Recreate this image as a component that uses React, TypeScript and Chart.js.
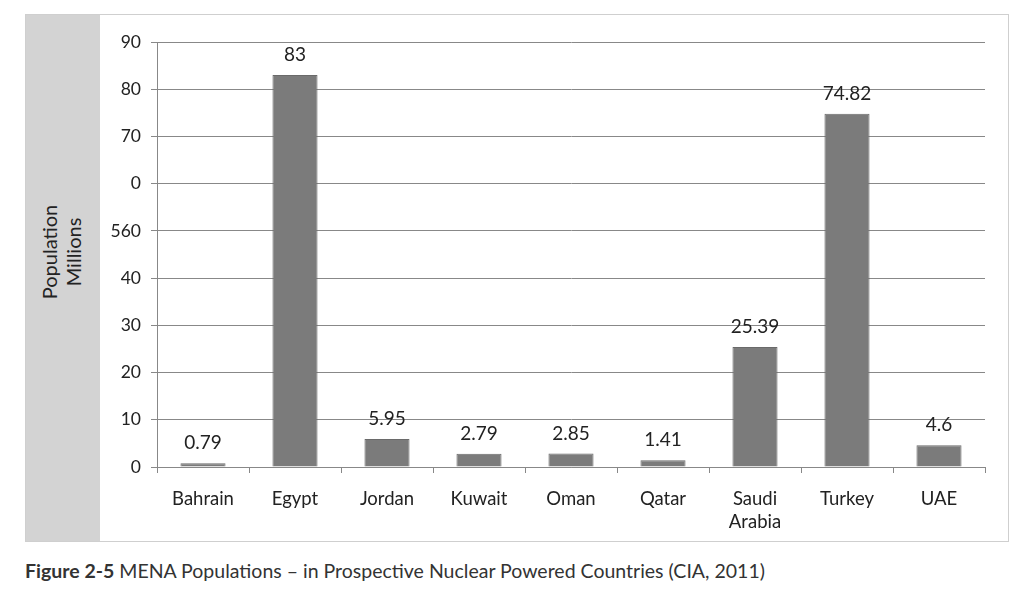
import React, { useEffect, useRef } from "react";
import { Chart, registerables } from "chart.js";

Chart.register(...registerables);

const categories: (string | string[])[] = ["Bahrain", "Egypt", "Jordan", "Kuwait", "Oman", "Qatar", ["Saudi", "Arabia"], "Turkey", "UAE"];
const populations: number[] = [0.79, 83, 5.95, 2.79, 2.85, 1.41, 25.39, 74.82, 4.6];
const valueLabels: string[] = ["0.79", "83", "5.95", "2.79", "2.85", "1.41", "25.39", "74.82", "4.6"];
// tick labels as printed in the scanned figure
const tickValues: number[] = [0, 10, 20, 30, 40, 50, 60, 70, 80, 90];
const tickLabels: string[] = ["0", "10", "20", "30", "40", "560", "0", "70", "80", "90"];

const FONT = "Lato, 'Open Sans', sans-serif";

const valueLabelPlugin = {
  id: "valueLabels",
  afterDatasetsDraw(chart: any) {
    const ctx = chart.ctx;
    const meta = chart.getDatasetMeta(0);
    ctx.save();
    ctx.font = `19px ${FONT}`;
    ctx.fillStyle = "#222";
    ctx.textAlign = "center";
    ctx.textBaseline = "middle";
    meta.data.forEach((bar: any, i: number) => {
      ctx.fillText(valueLabels[i], bar.x, bar.y - 20);
    });
    ctx.restore();
  },
};

export default function App() {
  const ref = useRef<HTMLCanvasElement | null>(null);
  useEffect(() => {
    document.body.style.margin = "0";
    const chart = new Chart(ref.current as HTMLCanvasElement, {
      type: "bar",
      data: {
        labels: categories,
        datasets: [
          {
            data: populations,
            backgroundColor: "#7b7b7b",
            borderColor: "#6a6a6a",
            borderWidth: 1,
            barPercentage: 0.49,
            categoryPercentage: 1,
          },
        ],
      },
      options: {
        animation: false,
        responsive: false,
        layout: { padding: { top: 28, right: 23, left: 0, bottom: 0 } },
        plugins: { legend: { display: false }, tooltip: { enabled: false } },
        scales: {
          x: {
            grid: { display: true, drawOnChartArea: false, drawTicks: true, tickLength: 6, color: "#888", offset: true },
            border: { color: "#888" },
            ticks: { color: "#222", font: { family: FONT, size: 18.5, lineHeight: 1.25 }, padding: 14, maxRotation: 0, autoSkip: false },
            afterFit: (s: any) => { s.height = 74; },
          },
          y: {
            min: 0,
            max: 90,
            afterBuildTicks: (s: any) => { s.ticks = tickValues.map((v) => ({ value: v })); },
            grid: { color: "#888", tickLength: 6 },
            border: { color: "#888" },
            ticks: {
              color: "#222",
              font: { family: FONT, size: 17.5 },
              padding: 10,
              callback: (v: any) => tickLabels[tickValues.indexOf(Number(v))],
            },
            afterFit: (s: any) => { s.width = 57; },
          },
        },
      },
      plugins: [valueLabelPlugin],
    });
    return () => chart.destroy();
  }, []);

  return (
    <div style={{ position: "relative", width: 1024, height: 593, background: "#fff", fontFamily: FONT, overflow: "hidden" }}>
      <div style={{ position: "absolute", left: 25, top: 14, width: 982, height: 526, border: "1px solid #cfcfcf" }} />
      <div style={{ position: "absolute", left: 26, top: 15, width: 74, height: 526, background: "#d3d3d3" }} />
      <div
        style={{
          position: "absolute",
          left: 61,
          top: 252,
          transform: "translate(-50%, -50%) rotate(-90deg)",
          fontSize: 20,
          lineHeight: "24px",
          color: "#222",
          textAlign: "center",
          whiteSpace: "nowrap",
        }}
      >
        Population
        <br />
        Millions
      </div>
      <canvas ref={ref} width={908} height={527} style={{ position: "absolute", left: 100, top: 14 }} />
      <div style={{ position: "absolute", left: 25, top: 559, fontSize: 19.5, color: "#333", whiteSpace: "nowrap" }}>
        <b>Figure 2-5</b> MENA Populations – in Prospective Nuclear Powered Countries (CIA, 2011)
      </div>
    </div>
  );
}
